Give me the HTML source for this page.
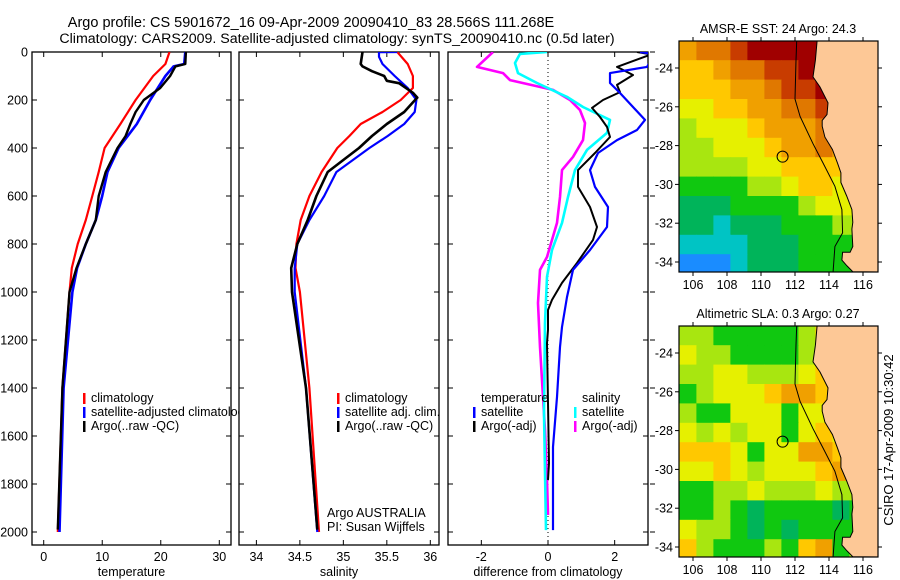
<!DOCTYPE html>
<html><head><meta charset="utf-8">
<style>
html,body{margin:0;padding:0;background:#fff;}
svg{display:block;font-family:"Liberation Sans",sans-serif;}
</style></head>
<body>
<svg id="fig" width="900" height="580" viewBox="0 0 900 580" xmlns="http://www.w3.org/2000/svg">
<rect x="0" y="0" width="900" height="580" fill="#fff"/>
<text x="311" y="27" font-size="14.5" text-anchor="middle">Argo profile: CS 5901672_16 09-Apr-2009 20090410_83 28.566S 111.268E</text>
<text x="337" y="43" font-size="14.2" text-anchor="middle">Climatology: CARS2009. Satellite-adjusted climatology: synTS_20090410.nc (0.5d later)</text>
<text transform="translate(893,440) rotate(-90)" font-size="13" text-anchor="middle">CSIRO 17-Apr-2009 10:30:42</text>
<g id="plots"></g>
</svg>
<script>
// ---- profile data (depth in m) ----
const tClimDepth=[0,50,100,200,300,400,500,600,700,800,900,1000,1400,2000];
const tClim=[21.5,20.8,18.7,15.7,13.1,10.4,9.4,8.3,7.2,5.8,4.8,4.4,3.2,2.4];
const tSatDepth=[0,50,60,100,200,300,400,500,600,700,800,900,1000,1400,2000];
const tSat=[24.2,24,22.2,20.8,18.2,15.9,12.8,10.9,10,8.9,7.2,5.7,4.9,3.4,2.7];
const tArgoDepth=[0,50,60,100,150,200,250,300,350,400,500,600,700,800,900,1000,1400,1990];
const tArgo=[24.3,24.2,22.5,21.6,19.9,17.1,15.7,14.8,14,12.6,10.6,9.4,8.9,7.2,5.6,4.4,3.2,2.4];
const sClimDepth=[0,50,100,150,200,250,300,350,400,500,600,700,800,900,1000,1400,2000];
const sClim=[35.62,35.74,35.8,35.8,35.66,35.45,35.2,35.07,34.93,34.75,34.61,34.51,34.46,34.45,34.5,34.61,34.72];
const sSatDepth=[0,1,20,50,100,150,200,250,300,350,400,500,600,700,800,900,1000,1400,2000];
const sSat=[35.62,35.41,35.41,35.45,35.59,35.74,35.84,35.82,35.7,35.51,35.3,34.92,34.78,34.61,34.47,34.44,34.44,34.57,34.7];
const sArgoDepth=[0,50,60,80,100,120,130,170,190,210,250,300,350,400,450,500,600,700,800,900,1000,1400,1990];
const sArgo=[35.22,35.2,35.22,35.33,35.47,35.5,35.64,35.8,35.85,35.8,35.7,35.5,35.33,35.18,35,34.82,34.69,34.59,34.47,34.4,34.41,34.57,34.7];
const dTSatDepth=[0,10,62,88,129,171,229,283,325,367,421,492,562,646,729,825,908,1021,1146,1229,1438,1646,1992];
const dTSat=[2.76,3.2,2.97,1.86,1.86,2.16,2.55,2.91,2.67,2.07,1.5,1.26,1.41,1.8,1.77,1.26,0.75,0.57,0.42,0.36,0.27,0.15,0.15];
const dTArgoDepth=[0,10,62,96,137,167,200,233,271,312,354,421,492,562,646,729,783,879,962,1033,1075,1158,1213,1713,1783];
const dTArgo=[2.67,3.1,2.07,2.55,2.07,2.16,1.65,1.32,1.56,1.77,1.86,1.41,0.9,0.9,1.26,1.47,1.35,0.87,0.42,0.12,0,0,-0.03,0.03,0];
const dSSatDepth=[0,8,46,88,129,187,229,283,337,408,492,604,712,825,937,1129,1504,1992];
const dSSat=[-0.03,-0.84,-0.99,-0.9,-0.33,0.57,1.05,1.86,1.77,1.17,0.81,0.6,0.42,0.12,-0.03,-0.09,-0.12,-0.06];
const dSArgoDepth=[0,62,88,117,158,200,242,296,367,437,492,604,712,854,908,1046,1229,1367,1575,1783,1929];
const dSArgo=[-1.65,-2.13,-1.35,-1.14,0.15,0.66,0.96,1.11,1.05,0.75,0.42,0.36,0.27,-0.03,-0.24,-0.3,-0.24,-0.18,-0.09,-0.03,0];
const depthTicks=[0,200,400,600,800,1000,1200,1400,1600,1800,2000];
const tTicks=[0,10,20,30];
const sTicks=[34,34.5,35,35.5,36];
const dTicks=[-2,0,2];
// ---- map data: colour index grid, 1-degree cells from 105.2E, -22.6S ----
const sstGrid=[
[7,8,8,9,10,10,10,10,10,10,10,10],
[6,6,7,8,8,9,9,10,10,10,10,10],
[6,6,6,7,7,8,9,9,10,10,9,9],
[5,5,6,6,7,7,8,8,9,9,8,8],
[4,5,5,5,6,7,7,7,8,8,7,7],
[4,4,5,5,5,6,7,7,8,7,6,6],
[4,4,4,4,5,5,6,6,6,6,6,6],
[3,3,3,3,4,4,5,6,6,5,6,6],
[2,2,2,3,3,3,3,4,5,5,5,5],
[2,2,1,2,2,2,3,3,3,4,4,4],
[1,1,1,1,2,2,2,3,3,3,3,3],
[0,0,0,1,2,2,2,3,3,3,3,3]];
const slaGrid=[
[4,4,3,3,3,3,3,4,6,6,5,5],
[5,4,4,3,3,3,3,4,6,5,5,5],
[4,4,5,5,4,4,4,5,6,6,5,5],
[3,4,5,5,5,6,7,7,6,5,5,5],
[4,3,3,5,5,5,3,5,5,5,6,6],
[5,4,5,4,5,5,3,5,6,5,5,6],
[6,6,6,5,3,5,5,7,7,6,5,6],
[5,5,6,5,4,5,5,5,6,7,5,6],
[3,3,4,4,5,4,4,4,5,4,4,5],
[3,3,4,3,2,3,3,3,3,2,3,5],
[5,4,4,3,2,3,2,3,3,3,3,5],
[6,4,3,3,3,4,3,6,7,3,4,5]];
const coastLon=[113.3,113.2,113.06,113.47,113.94,113.88,113.6,113.6,113.76,114.2,114.5,114.7,114.7,115.04,115.35,115.4,115.35,115.4,115.24,114.8,114.76,115.06,115.4];
const coastLat=[-22.6,-23.6,-24.46,-24.98,-25.8,-26.4,-26.7,-27.0,-27.56,-28.2,-28.9,-29.4,-29.9,-30.6,-31.3,-31.96,-32.3,-33.2,-33.5,-33.5,-33.9,-34.2,-34.5];
const isoLon=[112.1,112.06,112.0,112.3,113.06,113.65,114.35,114.76,114.8,114.35,114.24];
const isoLat=[-22.6,-23.6,-25.6,-26.5,-27.9,-28.9,-30.1,-31.3,-32.5,-33.2,-34.5];
const floatLon=111.27, floatLat=-28.57;
const lonTicks=[106,108,110,112,114,116];
const latTicks=[-24,-26,-28,-30,-32,-34];
const palette=['#1a8cff','#00c4c4','#00b45a','#10c810','#a8e610','#e6f000','#ffc800','#f0a000','#e07800','#c83c00','#a00000'];

const NS='http://www.w3.org/2000/svg';
const root=document.getElementById('plots');
function el(tag,attrs,parent){const e=document.createElementNS(NS,tag);for(const k in attrs)e.setAttribute(k,attrs[k]);(parent||root).appendChild(e);return e;}
const Y0=52,Y1=545,PXM=0.24;
const yD=d=>Y0+d*PXM;

function panel(name,x0,x1,xmin,xmax,ticks,xlabel,showY){
  const g=el('g',{});
  
  
  const xs=v=>x0+(v-xmin)/(xmax-xmin)*(x1-x0);
  const cid=name+'-clip';
  const cp=el('clipPath',{id:cid},g);el('rect',{x:x0,y:Y0,width:x1-x0,height:Y1-Y0},cp);
  const fr=el('rect',{x:x0,y:Y0,width:x1-x0,height:Y1-Y0,fill:'#fff',stroke:'#000','stroke-width':1.3},g);
  
  
  ticks.forEach(v=>{const x=xs(v);
    el('line',{x1:x,x2:x,y1:Y0,y2:Y0+5,stroke:'#000'},g);el('line',{x1:x,x2:x,y1:Y1,y2:Y1-5,stroke:'#000'},g);
    const t=el('text',{x:x,y:561,'font-size':12.5,'text-anchor':'middle'},g);t.textContent=String(v);
    
    });
  depthTicks.forEach(d=>{const y=yD(d);
    el('line',{x1:x0,x2:x0+5,y1:y,y2:y,stroke:'#000'},g);el('line',{x1:x1,x2:x1-5,y1:y,y2:y,stroke:'#000'},g);
    if(showY){const t=el('text',{x:28,y:y+4.5,'font-size':12.5,'text-anchor':'end'},g);t.textContent=String(d);
      
      }});
  const xl=el('text',{x:(x0+x1)/2,y:576,'font-size':12.5,'text-anchor':'middle'},g);xl.textContent=xlabel;
  
  
  const lines=el('g',{'clip-path':'url(#'+cid+')'},g);
  return {g,xs,lines};
}
function series(p,name,depths,vals,color,w){
  const pts=depths.map((d,i)=>p.xs(vals[i]).toFixed(1)+','+yD(d).toFixed(1)).join(' ');
  const l=el('polyline',{points:pts,fill:'none',stroke:color,'stroke-width':w||2.2,'stroke-linejoin':'round'},p.lines);
  
  
}
function legend(g,x,y,color,label,name){
  el('rect',{x:x,y:y-9,width:2.5,height:11,fill:color},g);
  const t=el('text',{x:x+8,y:y,'font-size':12.5},g);t.textContent=label;
  
  
}
// Panel 1
const p1=panel('temperature-panel',32,231,-2,32,tTicks,'temperature',true);
series(p1,'temperature-climatology-line',tClimDepth,tClim,'#ff0000');
series(p1,'temperature-satellite-line',tSatDepth,tSat,'#0000ff',2.6);
series(p1,'temperature-argo-line',tArgoDepth,tArgo,'#000000',2.4);
legend(p1.g,83,402,'#ff0000','climatology','legend-climatology');
legend(p1.g,83,416,'#0000ff','satellite-adjusted climatology','legend-satellite-adjusted');
legend(p1.g,83,430,'#000000','Argo(..raw -QC)','legend-argo');
// Panel 2
const p2=panel('salinity-panel',239,439,33.8,36.1,sTicks,'salinity',false);
series(p2,'salinity-climatology-line',sClimDepth,sClim,'#ff0000');
series(p2,'salinity-satellite-line',sSatDepth,sSat,'#0000ff');
series(p2,'salinity-argo-line',sArgoDepth,sArgo,'#000000',2.6);
legend(p2.g,337,402,'#ff0000','climatology','legend-sal-climatology');
legend(p2.g,337,416,'#0000ff','satellite adj. clim.','legend-sal-satellite');
legend(p2.g,337,430,'#000000','Argo(..raw -QC)','legend-sal-argo');
[['Argo AUSTRALIA',517],['PI: Susan Wijffels',531]].forEach(([s,y])=>{const t=el('text',{x:327,y:y,'font-size':12.5},p2.g);t.textContent=s;
  
  });
// Panel 3
const p3=panel('difference-panel',448,648,-3,3,dTicks,'difference from climatology',false);
el('line',{x1:p3.xs(0),x2:p3.xs(0),y1:Y0,y2:Y1,stroke:'#000','stroke-dasharray':'1,3'},p3.lines);
series(p3,'salinity-argo-diff-line',dSArgoDepth,dSArgo,'#ff00ff',2.6);
series(p3,'salinity-satellite-diff-line',dSSatDepth,dSSat,'#00ffff',2.6);
series(p3,'temperature-argo-diff-line',dTArgoDepth,dTArgo,'#000000',2);
series(p3,'temperature-satellite-diff-line',dTSatDepth,dTSat,'#0000ff',2.2);
depthTicks.forEach(d=>el('line',{x1:650,x2:655,y1:yD(d),y2:yD(d),stroke:'#000'},p3.g));
{const t=el('text',{x:481,y:402,'font-size':12.5},p3.g);t.textContent='temperature';
 
 
 const s=el('text',{x:582,y:402,'font-size':12.5},p3.g);s.textContent='salinity';
 
 }
legend(p3.g,473,416,'#0000ff','satellite','legend-temp-satellite');
legend(p3.g,473,430,'#000000','Argo(-adj)','legend-temp-argo');
legend(p3.g,574,416,'#00ffff','satellite','legend-sal-satellite-diff');
legend(p3.g,574,430,'#ff00ff','Argo(-adj)','legend-sal-argo-diff');

// Maps
function map(name,top,grid,title){
  const g=el('g',{});
  
  
  const X0=679,X1=878,Yb=top+231;
  const lx=lon=>693+(lon-106)*17, ly=lat=>top+27+(-24-lat)*19.4;
  const cid=name+'-clip';
  const cp=el('clipPath',{id:cid},g);el('rect',{x:X0,y:top,width:X1-X0,height:Yb-top},cp);
  const inner=el('g',{'clip-path':'url(#'+cid+')'},g);
  grid.forEach((row,r)=>row.forEach((v,c)=>{
    const x=lx(105.2+c),y=ly(-22.6-r);
    const cell=el('rect',{x:x.toFixed(1),y:y.toFixed(1),width:17.6,height:20,fill:palette[v]},inner);
    
    
  }));
  let d='M'+coastLon.map((lo,i)=>lx(lo).toFixed(1)+' '+ly(coastLat[i]).toFixed(1)).join(' L')+' L'+X1+' '+Yb+' L'+X1+' '+top+' Z';
  const land=el('path',{d:d,fill:'#fdc896',stroke:'#000','stroke-width':1},inner);
  
  
  const iso=el('polyline',{points:isoLon.map((lo,i)=>lx(lo).toFixed(1)+','+ly(isoLat[i]).toFixed(1)).join(' '),fill:'none',stroke:'#000','stroke-width':1},inner);
  
  
  const c=el('circle',{cx:lx(floatLon),cy:ly(floatLat),r:5.5,fill:'none',stroke:'#000','stroke-width':1},inner);
  
  
  el('rect',{x:X0,y:top,width:X1-X0,height:Yb-top,fill:'none',stroke:'#000','stroke-width':1.2},g);
  lonTicks.forEach(lo=>{const x=lx(lo);
    el('line',{x1:x,x2:x,y1:top,y2:top-4,stroke:'#000'},g);el('line',{x1:x,x2:x,y1:Yb,y2:Yb+4,stroke:'#000'},g);
    const t=el('text',{x:x,y:Yb+17,'font-size':12.5,'text-anchor':'middle'},g);t.textContent=String(lo);
    
    });
  latTicks.forEach(la=>{const y=ly(la);
    el('line',{x1:X0,x2:X0-4,y1:y,y2:y,stroke:'#000'},g);el('line',{x1:X1,x2:X1+4,y1:y,y2:y,stroke:'#000'},g);
    const t=el('text',{x:673,y:y+4.5,'font-size':12.5,'text-anchor':'end'},g);t.textContent=String(la);
    
    });
  const tt=el('text',{x:778,y:top-8,'font-size':12.5,'text-anchor':'middle'},g);tt.textContent=title;
  
  
}
map('sst-map',41,sstGrid,'AMSR-E SST: 24 Argo: 24.3');
map('sla-map',326,slaGrid,'Altimetric SLA: 0.3 Argo: 0.27');
</script>
</body></html>
